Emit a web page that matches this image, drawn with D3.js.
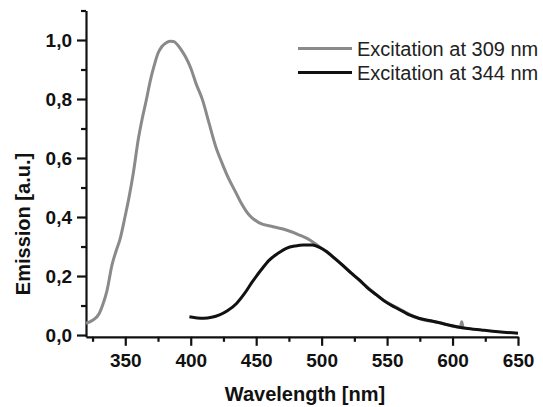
<!DOCTYPE html>
<html>
<head>
<meta charset="utf-8">
<script src="https://cdn.jsdelivr.net/npm/d3@7"></script>
<style>
  body { margin: 0; background: #fff; }
  text { font-family: "Liberation Sans", Arial, sans-serif; }
</style>
</head>
<body>
<svg id="chart"></svg>
<script>
const width = 543, height = 407;

// Emission spectra
const wl309 = [320, 325, 330, 333, 336, 340, 343, 346, 350, 353, 356, 360, 363, 366, 369, 372, 375, 378, 381, 384, 387, 390, 393, 396, 400, 404, 409, 414, 419, 424, 429, 434, 438, 445, 452, 463, 473, 483, 491, 498, 505, 515, 530, 545, 560, 575, 590, 600, 606, 607, 608, 609];
const em309 = [0.040, 0.050, 0.072, 0.105, 0.150, 0.240, 0.285, 0.325, 0.405, 0.470, 0.545, 0.665, 0.735, 0.795, 0.860, 0.912, 0.955, 0.978, 0.990, 0.996, 0.995, 0.983, 0.965, 0.943, 0.905, 0.853, 0.797, 0.718, 0.640, 0.582, 0.530, 0.487, 0.452, 0.405, 0.381, 0.367, 0.356, 0.339, 0.322, 0.300, 0.278, 0.240, 0.181, 0.125, 0.087, 0.055, 0.042, 0.030, 0.027, 0.045, 0.027, 0.025];

const wl344 = [399, 405, 410, 416, 422, 428, 435, 441, 447, 454, 460, 467, 473, 480, 486, 493, 498, 504, 510, 516, 522, 529, 535, 542, 548, 556, 562, 567, 575, 585, 597, 610, 622, 635, 650];
const em344 = [0.062, 0.058, 0.057, 0.060, 0.068, 0.082, 0.107, 0.140, 0.180, 0.222, 0.254, 0.278, 0.294, 0.302, 0.305, 0.305, 0.298, 0.282, 0.260, 0.237, 0.212, 0.186, 0.160, 0.136, 0.115, 0.094, 0.080, 0.068, 0.056, 0.047, 0.034, 0.023, 0.017, 0.011, 0.006];

const xMajor = [350, 400, 450, 500, 550, 600, 650];
const xMinor = [325, 375, 425, 475, 525, 575, 625];
const yMajor = [0, 0.2, 0.4, 0.6, 0.8, 1.0];
const yMinor = [0.1, 0.3, 0.5, 0.7, 0.9, 1.1];
const legendLabels = ["Excitation at 309 nm", "Excitation at 344 nm"];
const colors = ["#8a8a8a", "#111"];

const svg = d3.select("#chart")
    .attr("width", width)
    .attr("height", height);

const x = d3.scaleLinear().domain([320, 650]).range([86, 518]);
const y = d3.scaleLinear().domain([-0.006, 1.1]).range([336.8, 10.5]);

const fmt = d => d3.format(".1f")(d).replace(".", ",");

// minor ticks
svg.append("g")
    .attr("transform", `translate(${x.range()[0]},0)`)
    .call(d3.axisLeft(y).tickValues(yMinor).tickSize(5).tickSizeOuter(0).tickFormat(""))
    .call(g => g.select(".domain").remove());
svg.append("g")
    .attr("transform", `translate(0,${y.range()[0]})`)
    .call(d3.axisBottom(x).tickValues(xMinor).tickSize(5).tickSizeOuter(0).tickFormat(""))
    .call(g => g.select(".domain").remove());

// major axes
svg.append("g")
    .attr("transform", `translate(${x.range()[0]},0)`)
    .call(d3.axisLeft(y).tickValues(yMajor).tickSize(9).tickSizeOuter(0).tickPadding(5).tickFormat(fmt));
svg.append("g")
    .attr("transform", `translate(0,${y.range()[0]})`)
    .call(d3.axisBottom(x).tickValues(xMajor).tickSize(9).tickSizeOuter(0).tickPadding(8));

svg.selectAll(".tick line, .domain")
    .attr("stroke", "#111")
    .attr("stroke-width", 2.2);
svg.selectAll(".tick text")
    .attr("font-size", 19)
    .attr("font-weight", "bold")
    .attr("fill", "#111");

// axis titles
svg.append("text")
    .attr("x", (x.range()[0] + x.range()[1]) / 2 + 3)
    .attr("y", 401)
    .attr("text-anchor", "middle")
    .attr("font-size", 20)
    .attr("font-weight", "bold")
    .attr("fill", "#111")
    .text("Wavelength [nm]");

svg.append("text")
    .attr("transform", "translate(30,224) rotate(-90)")
    .attr("text-anchor", "middle")
    .attr("font-size", 20)
    .attr("font-weight", "bold")
    .attr("fill", "#111")
    .text("Emission [a.u.]");

// spectra
const line = d3.line()
    .x(d => x(d[0]))
    .y(d => y(d[1]))
    .curve(d3.curveMonotoneX);

const series = [d3.zip(wl309, em309), d3.zip(wl344, em344)];

svg.selectAll(".spectrum")
    .data(series)
    .enter()
    .append("path")
    .attr("class", "spectrum")
    .attr("fill", "none")
    .attr("stroke", (d, i) => colors[i])
    .attr("stroke-width", 3)
    .attr("stroke-linejoin", "round")
    .attr("d", line);

// legend
const legend = svg.append("g");
legendLabels.forEach((label, i) => {
    const ly = 48.5 + i * 24;
    legend.append("line")
        .attr("x1", 298).attr("x2", 352)
        .attr("y1", ly).attr("y2", ly)
        .attr("stroke", colors[i])
        .attr("stroke-width", 3);
    legend.append("text")
        .attr("x", 357)
        .attr("y", ly + 7)
        .attr("font-size", 20)
        .attr("fill", "#222")
        .text(label);
});
</script>
</body>
</html>
